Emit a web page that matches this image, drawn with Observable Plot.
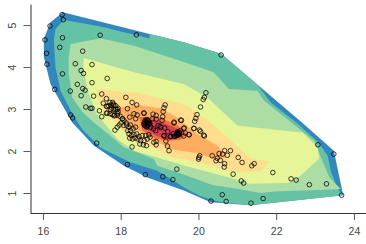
<!DOCTYPE html>
<html><head><meta charset="utf-8">
<script src="https://cdn.jsdelivr.net/npm/d3@7"></script>
<script src="https://cdn.jsdelivr.net/npm/@observablehq/plot@0.6"></script>
<style>html,body{margin:0;padding:0;background:#fff}svg{display:block}</style>
</head><body><div id="c"></div>
<script>
const xTicks=[16,18,20,22,24];
const yTicks=[1,2,3,4,5];
const bandColors=["#3288BD","#66C2A5","#ABDDA4","#E6F598","#FEDD8D","#FDAE61","#F46D43","#D53E4F"];
const band0=[[16.5,5.32],[18.73,4.8],[19.61,4.6],[20.57,4.33],[22.65,2.69],[23.47,2.02],[23.71,0.96],[21.33,0.72],[20.3,0.79],[19.61,1.07],[18.67,1.38],[18.07,1.66],[17.3,2.14],[16.74,2.69],[16.18,3.61],[16.01,4.25],[16.01,4.68],[16.18,5.08]];
const band1=[[16.52,5.13],[17.47,4.98],[18.73,4.69],[18.73,4.8],[19.61,4.6],[20.57,4.33],[21.49,3.61],[21.85,3.17],[22.54,2.66],[23.07,2.22],[23.31,1.9],[23.4,1.51],[23.57,1.11],[23.71,0.96],[21.33,0.72],[20.55,0.8],[20.3,0.86],[20.0,0.95],[19.61,1.15],[18.93,1.54],[18.24,1.74],[17.47,2.09],[17.0,2.53],[16.74,2.9],[16.44,3.45],[16.31,4.01],[16.27,4.64],[16.31,4.92]];
const band2=[[16.7,4.56],[17.47,4.7],[18.33,4.52],[19.61,4.13],[20.38,3.89],[20.77,3.49],[21.5,3.45],[21.68,3.21],[22.45,2.64],[22.97,2.25],[23.14,1.86],[23.35,1.39],[23.65,1.11],[23.22,1.09],[21.94,1.05],[21.59,1.01],[20.82,1.14],[20.34,1.2],[19.61,1.45],[18.93,1.66],[18.84,1.82],[18.07,2.1],[17.73,2.37],[17.3,2.69],[17.0,2.94],[16.74,3.29],[16.65,3.85],[16.65,4.25]];
const band3=[[17.04,4.23],[18.33,3.89],[19.61,3.61],[20.21,3.29],[20.99,2.62],[22.67,2.45],[23.05,2.1],[23.09,1.83],[22.62,1.43],[22.28,1.25],[21.29,1.23],[20.82,1.37],[20.29,1.5],[19.61,1.67],[18.93,1.86],[18.33,2.02],[17.9,2.29],[17.55,2.69],[17.34,2.94],[17.14,3.45],[17.02,4.01]];
const band4=[[17.38,3.49],[18.4,3.4],[19.61,3.13],[20.3,2.69],[20.82,2.26],[21.34,1.83],[21.81,1.77],[21.59,1.53],[20.9,1.5],[20.38,1.65],[19.95,1.75],[19.36,1.85],[18.76,2.1],[18.24,2.25],[17.86,2.69],[17.55,2.94],[17.38,3.29]];
const band5=[[17.9,3.02],[18.33,3.12],[19.0,3.03],[19.36,2.86],[19.96,2.42],[20.48,2.14],[20.7,1.86],[20.38,1.83],[19.96,1.96],[19.36,2.04],[19.02,2.18],[18.59,2.42],[18.2,2.6]];
const band6=[[18.46,2.82],[18.97,2.82],[19.45,2.62],[19.7,2.42],[19.53,2.28],[19.19,2.25],[18.84,2.32],[18.54,2.5]];
const band7=[[18.59,2.78],[18.93,2.74],[19.36,2.58],[19.57,2.46],[19.53,2.36],[19.19,2.3],[18.89,2.38],[18.63,2.54]];
const ptX=[16.48,16.51,16.17,16.49,16.04,16.42,16.08,16.09,17.01,17.46,18.39,16.82,17.25,16.97,17.03,16.49,17.64,17.25,16.87,17.01,17.07,16.29,16.69,16.97,17.29,17.5,17.62,18.12,18.28,18.4,17.09,17.21,17.25,17.44,17.5,16.7,16.75,17.54,
17.62,17.68,17.74,17.8,17.86,17.92,17.8,17.86,17.92,17.73,17.64,17.71,17.77,17.83,17.9,17.97,18.03,18.07,18.13,17.84,17.9,17.95,18.0,18.07,18.14,18.2,18.24,18.17,18.24,18.31,18.37,18.2,18.26,18.33,18.4,18.22,18.29,18.36,18.43,18.5,18.59,18.67,18.74,18.46,18.54,18.63,18.71,18.48,18.57,18.65,18.28,18.84,18.9,18.9,19.19,19.23,
19.15,19.1,19.26,19.38,19.47,19.02,19.43,19.07,19.33,18.62,18.16,17.37,
19.61,19.87,20.04,20.14,20.12,19.74,19.65,19.61,20.02,20.0,19.99,20.34,20.52,20.61,20.66,20.81,20.73,20.47,20.55,20.44,20.66,20.65,21.01,21.11,21.36,21.42,20.88,21.09,21.15,21.9,22.37,22.5,22.84,23.28,23.06,23.47,23.67,20.6,21.65,20.31,20.7,21.34,
20.57,20.18,20.14,20.11,20.04,19.95,19.92,19.89,19.13,19.1,19.08,19.07,19.05,18.82,18.59,18.41,18.9,19.53,19.36,
17.71,17.78,17.81,17.64,17.75,17.9,17.91,18.16,18.22,18.03,17.62,17.82,
18.76,18.83,18.89,19.1,19.36,19.55,19.62,19.75,19.87,20.01,18.8,18.9,18.58,18.37,18.33,
18.6,18.62,18.64,18.66,18.68,18.7,18.72,18.6,18.64,18.68,18.72,18.62,18.66,18.7,18.66,18.74,18.58,
19.28,19.36,19.42,19.47,19.5,19.52,19.44,19.34,19.2,19.12,19.0,18.95,19.44,19.47,19.5,19.45,19.42];
const ptY=[5.26,5.14,4.99,4.71,4.66,4.48,4.34,4.08,4.39,4.77,4.78,4.09,4.07,3.93,3.86,3.85,3.74,3.64,3.6,3.5,3.46,3.48,3.44,3.33,3.32,3.37,3.26,3.29,3.17,3.11,3.06,3.03,3.03,2.97,2.83,2.87,2.8,3.15,
3.08,3.09,3.11,3.13,3.09,3.03,3.01,3.0,2.95,3.0,2.92,2.9,2.88,2.87,2.86,2.84,2.78,2.74,2.68,2.51,2.58,2.63,2.68,2.62,2.63,2.58,2.63,2.5,2.5,2.54,2.58,2.42,2.38,2.4,2.42,2.32,2.3,2.32,2.3,2.26,2.26,2.3,2.34,2.36,2.38,2.38,2.4,2.18,2.16,2.14,2.11,2.22,2.16,2.24,2.13,2.02,
2.25,2.37,2.35,2.36,2.39,2.57,1.58,1.4,1.33,1.45,1.69,2.2,
2.55,2.55,2.48,2.37,2.39,2.4,2.44,2.37,1.9,1.86,1.82,1.9,1.95,1.94,2.02,2.02,1.91,1.84,1.79,1.78,1.71,1.63,1.86,1.74,1.66,1.71,1.46,1.3,1.25,1.5,1.35,1.32,1.21,1.23,2.16,1.94,0.96,0.97,0.88,0.82,0.81,0.77,
4.3,3.4,3.29,3.24,3.06,2.88,2.79,2.72,3.11,3.04,2.95,2.83,2.74,2.89,2.91,2.87,2.77,2.75,2.68,
3.17,3.17,3.1,3.07,3.04,3.0,2.9,3.02,2.82,2.78,2.91,2.85,
2.58,2.54,2.5,2.38,2.7,2.74,2.56,2.4,2.55,2.51,2.78,2.86,2.92,2.78,2.9,
2.7,2.65,2.72,2.68,2.74,2.66,2.7,2.62,2.6,2.62,2.64,2.75,2.76,2.72,2.58,2.66,2.66,
2.36,2.36,2.38,2.42,2.46,2.5,2.44,2.42,2.47,2.56,2.6,2.62,2.42,2.44,2.42,2.47,2.4];
const bands=[band0,band1,band2,band3,band4,band5,band6,band7];
const chart=Plot.plot({
  width:366,height:244,marginLeft:30.5,marginRight:0,marginTop:4.5,marginBottom:31,
  style:{background:"#fff",fontFamily:"'Liberation Sans',Arial,sans-serif",fontSize:"10.5px",color:"#444"},
  x:{domain:[15.68,24.31]},
  y:{domain:[0.524,5.49]},
  marks:[
    ...bands.map((b,i)=>Plot.line(b,{x:d=>d[0],y:d=>d[1],fill:bandColors[i],stroke:"none",curve:"linear-closed"})),
    Plot.dot(ptX.map((x,i)=>[x,ptY[i]]),{x:d=>d[0],y:d=>d[1],r:2.3,stroke:"#000",strokeWidth:0.9,strokeOpacity:0.85,fill:"none"}),
    Plot.ruleX([15.68],{stroke:"#333",strokeWidth:1}),
    Plot.ruleY([0.524],{stroke:"#333",strokeWidth:1}),
    Plot.axisX({ticks:xTicks,tickFormat:"d",tickSize:7,tickPadding:7,label:null,stroke:"#555",color:"#444"}),
    Plot.axisY({ticks:yTicks,tickFormat:"d",tickSize:7,tickPadding:8,tickRotate:-90,label:null,stroke:"#555",color:"#444"})
  ]
});
document.getElementById("c").append(chart);
</script></body></html>
